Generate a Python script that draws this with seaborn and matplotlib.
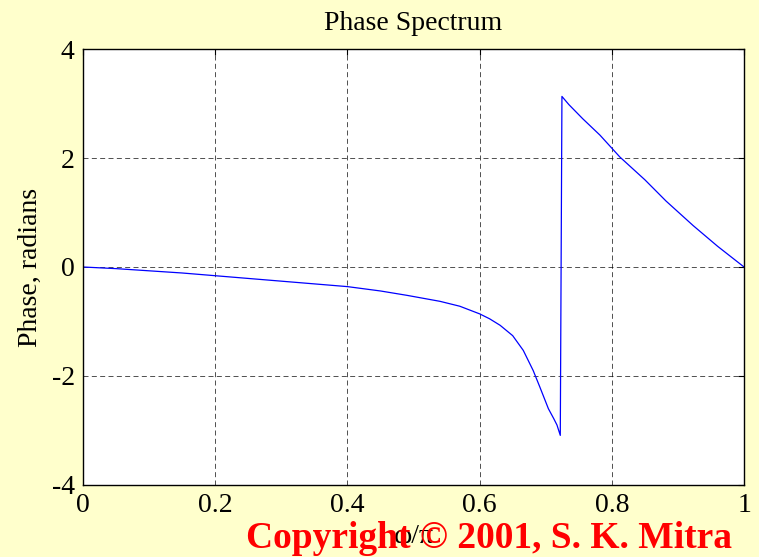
import matplotlib
matplotlib.use("Agg")
import matplotlib.pyplot as plt
import seaborn as sns
import pandas as pd

# Data
omega = [0.0, 0.05, 0.10, 0.15, 0.20, 0.25, 0.30, 0.35, 0.40, 0.45, 0.49,
         0.54, 0.57, 0.60, 0.615, 0.631, 0.65, 0.666, 0.681, 0.691, 0.704, 0.712,
         0.717, 0.722,
         0.7245, 0.735, 0.756, 0.782, 0.812, 0.85, 0.882, 0.923, 0.96, 1.0]
phase = [0.0, -0.03, -0.07, -0.11, -0.16, -0.21, -0.26, -0.31, -0.36, -0.44, -0.52,
         -0.63, -0.72, -0.86, -0.95, -1.07, -1.26, -1.53, -1.90, -2.20, -2.60, -2.78,
         -2.90, -3.09,
         3.13, 2.98, 2.72, 2.42, 2.02, 1.60, 1.21, 0.76, 0.38, 0.0]
xticks = [0, 0.2, 0.4, 0.6, 0.8, 1]
xtick_labels = ["0", "0.2", "0.4", "0.6", "0.8", "1"]
yticks = [-4, -2, 0, 2, 4]
ytick_labels = ["-4", "-2", "0", "2", "4"]

df = pd.DataFrame({"omega": omega, "phase": phase})

sns.set_style("white")
plt.rcParams["font.family"] = ["Liberation Serif", "DejaVu Serif"]
plt.rcParams["axes.unicode_minus"] = False
plt.rcParams["text.color"] = "black"
plt.rcParams["axes.labelcolor"] = "black"
plt.rcParams["xtick.color"] = "black"
plt.rcParams["ytick.color"] = "black"

bg = "#FFFFCC"
fig = plt.figure(figsize=(7.59, 5.57), dpi=100, facecolor=bg)
ax = fig.add_axes([0.1094, 0.1293, 0.8709, 0.7827])
ax.set_facecolor("white")

sns.lineplot(data=df, x="omega", y="phase", ax=ax, color="#0000FF",
             linewidth=0.9, estimator=None, sort=False)

ax.set_xlim(0, 1)
ax.set_ylim(-4, 4)
ax.set_xticks(xticks)
ax.set_xticklabels(xtick_labels)
ax.set_yticks(yticks)
ax.set_yticklabels(ytick_labels)
ax.tick_params(axis="both", direction="in", length=4, width=0.8, colors="black",
               labelcolor="black", labelsize=20, top=True, right=True, pad=6)
ax.grid(True, color="black", linestyle=(0, (6, 4)), linewidth=0.6, alpha=0.8)
for s in ax.spines.values():
    s.set_visible(True)
    s.set_color("black")
    s.set_linewidth(1.0)

ax.set_title("Phase Spectrum", fontsize=20, pad=14, color="black")
ax.set_ylabel("Phase, radians", fontsize=20, labelpad=6, color="black")
ax.set_xlabel("ω/π", fontsize=20, labelpad=4, color="black")

fig.text(0.644, 0.034, "Copyright © 2001, S. K. Mitra", color="red",
         fontsize=27, fontweight="bold", ha="center", va="center")

fig.savefig("out.png", dpi=100, facecolor=bg)
